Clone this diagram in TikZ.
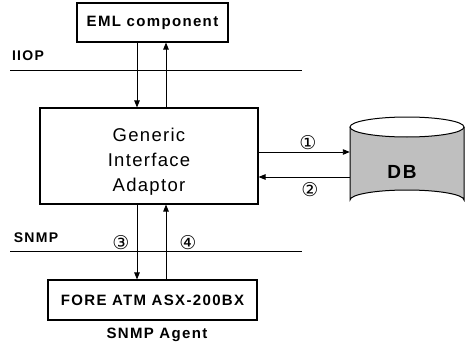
\documentclass[tikz,border=0pt]{standalone}
\usepackage{fontspec}
\setmainfont{Liberation Sans}
\newfontfamily\circfont{DejaVu Sans}
\newfontfamily\boldsp[LetterSpace=9]{Liberation Sans Bold}
\newfontfamily\regsp[LetterSpace=7]{Liberation Sans}
\usetikzlibrary{arrows.meta}
\begin{document}
\begin{tikzpicture}[x=1pt,y=-1pt,
  box/.style={draw=black,line width=1.1pt,rectangle,inner sep=0pt,align=center},
  conn/.style={line width=0.9pt,-{Triangle[length=7pt,width=5.5pt]}},
  bus/.style={line width=0.9pt},
  blbl/.style={font=\boldsp\fontsize{14}{16}\selectfont,inner sep=0pt},
  num/.style={font=\circfont\fontsize{19}{20}\selectfont,inner sep=0pt}]
\useasboundingbox (0,0) rectangle (468,345);
\node[box,minimum width=151pt,minimum height=39pt,font=\boldsp\fontsize{15}{17}\selectfont] (eml) at (152.5,22.5) {EML component};
\node[box,minimum width=218pt,minimum height=96pt] (gia) at (149,156) {};
\node[align=center,inner sep=0pt,font=\regsp\fontsize{18.5}{25}\selectfont] (giat) at (149,162) {Generic\\Interface\\Adaptor};
\node[box,minimum width=209pt,minimum height=40pt,font=\boldsp\fontsize{15}{17}\selectfont] (fore) at (152.5,300) {FORE ATM ASX-200BX};
\node[blbl,font=\boldsp\fontsize{15}{17}\selectfont] (agent) at (157,335) {SNMP Agent};
% DB cylinder
\fill[gray!50] (350,127) -- (350,200) arc[start angle=180,end angle=360,x radius=57,y radius=10] -- (464,127) arc[start angle=0,end angle=180,x radius=57,y radius=10] -- cycle;
\draw[line width=1pt] (350,127) -- (350,200) arc[start angle=180,end angle=360,x radius=57,y radius=10] -- (464,127);
\draw[line width=1pt] (407,127) ellipse[x radius=57,y radius=10];
\node[minimum width=114pt,minimum height=93pt,inner sep=0pt] (db) at (407,163.5) {};
\node[font=\boldsp\fontsize{19}{20}\selectfont,inner sep=0pt] (dbl) at (402,172) {DB};
% buses
\coordinate (iiopL) at (10,70); \coordinate (iiopR) at (302,70);
\coordinate (snmpL) at (10,251); \coordinate (snmpR) at (302,251);
\draw[bus] (iiopL) -- (iiopR);
\draw[bus] (snmpL) -- (snmpR);
\node[blbl] (iiop) at (28,56) {IIOP};
\node[blbl] (snmp) at (36,238) {SNMP};
% vertical connectors
\coordinate (xa) at (137,0); \coordinate (xb) at (166,0);
\draw[conn] (eml.south -| xa) -- (gia.north -| xa);
\draw[conn] (gia.north -| xb) -- (eml.south -| xb);
\draw[conn] (gia.south -| xa) -- (fore.north -| xa);
\draw[conn] (fore.north -| xb) -- (gia.south -| xb);
% horizontal connectors
\coordinate (ya) at (0,152); \coordinate (yb) at (0,177);
\draw[conn] (gia.east |- ya) -- (db.west |- ya);
\draw[conn] (db.west |- yb) -- (gia.east |- yb);
\node[num] (n1) at (308,143) {①};
\node[num] (n2) at (310,190) {②};
\node[num] (n3) at (121,243) {③};
\node[num] (n4) at (188,243) {④};
\end{tikzpicture}
\end{document}
